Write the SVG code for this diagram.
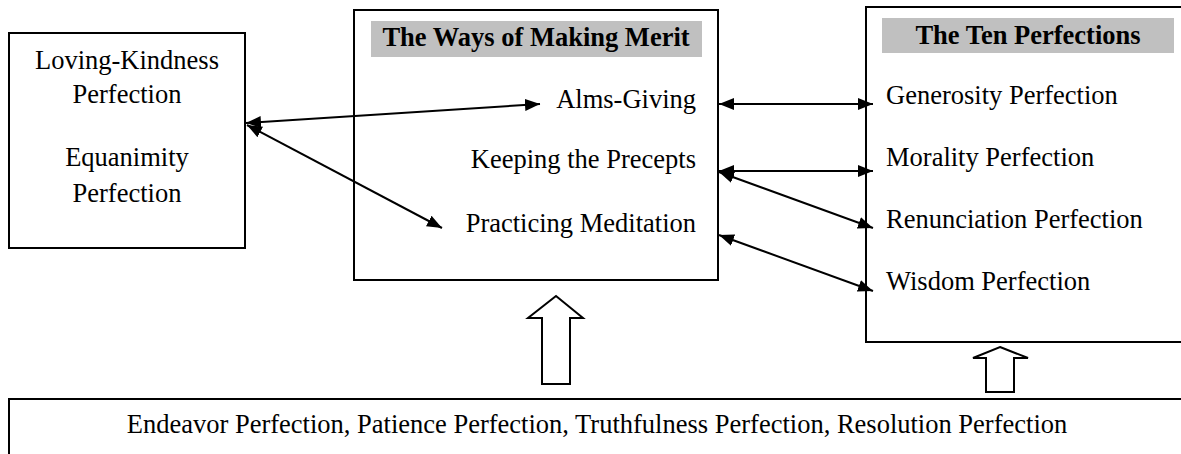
<svg xmlns="http://www.w3.org/2000/svg" width="1181" height="454" viewBox="0 0 1181 454">
<style>
.box{fill:#fff;stroke:#000;stroke-width:2}
.hdr{fill:#c0c0c0}
.ln{stroke:#000;stroke-width:2;fill:none;marker-start:url(#ah);marker-end:url(#ah)}
.blk{fill:#fff;stroke:#000;stroke-width:2;stroke-linejoin:miter}
</style>
<defs>
<marker id="ah" markerUnits="userSpaceOnUse" markerWidth="16" markerHeight="14" refX="15" refY="7" orient="auto-start-reverse" viewBox="0 0 16 14">
<path d="M0,1 L15,7 L0,13 Z" fill="#000"/>
</marker>
</defs>
<rect width="1181" height="454" fill="#fff"/>
<g id="node-left">
<rect class="box" x="9" y="33" width="236" height="215"/>
<text x="127" y="69" font-family="Liberation Serif" font-size="26.5" text-anchor="middle">Loving-Kindness</text>
<text x="127" y="103" font-family="Liberation Serif" font-size="26.5" text-anchor="middle">Perfection</text>
<text x="127" y="166" font-family="Liberation Serif" font-size="26.5" text-anchor="middle">Equanimity</text>
<text x="127" y="202" font-family="Liberation Serif" font-size="26.5" text-anchor="middle">Perfection</text>
</g>
<g id="node-merit">
<rect class="box" x="354" y="10" width="364" height="270"/>
<rect class="hdr" x="371" y="21" width="331" height="36"/>
<text x="536" y="46" font-family="Liberation Serif" font-size="26.5" font-weight="bold" text-anchor="middle">The Ways of Making Merit</text>
<text x="696" y="108" font-family="Liberation Serif" font-size="26.5" text-anchor="end">Alms-Giving</text>
<text x="696" y="168" font-family="Liberation Serif" font-size="26.5" text-anchor="end">Keeping the Precepts</text>
<text x="696" y="232" font-family="Liberation Serif" font-size="26.5" text-anchor="end">Practicing Meditation</text>
</g>
<g id="node-ten">
<rect class="box" x="866" y="7" width="330" height="335"/>
<rect class="hdr" x="882" y="18" width="292" height="35"/>
<text x="1028" y="44" font-family="Liberation Serif" font-size="26.5" font-weight="bold" text-anchor="middle">The Ten Perfections</text>
<text x="886" y="104" font-family="Liberation Serif" font-size="26.5">Generosity Perfection</text>
<text x="886" y="166" font-family="Liberation Serif" font-size="26.5">Morality Perfection</text>
<text x="886" y="228" font-family="Liberation Serif" font-size="26.5">Renunciation Perfection</text>
<text x="886" y="290" font-family="Liberation Serif" font-size="26.5">Wisdom Perfection</text>
</g>
<g id="node-bottom">
<rect class="box" x="9" y="399" width="1190" height="80"/>
<text x="597" y="433" font-family="Liberation Serif" font-size="26.5" text-anchor="middle">Endeavor Perfection, Patience Perfection, Truthfulness Perfection, Resolution Perfection</text>
</g>
<g id="connectors">
<line class="ln" x1="246" y1="123" x2="540" y2="104"/>
<line class="ln" x1="247" y1="125" x2="442" y2="228"/>
<line class="ln" x1="719" y1="104" x2="873" y2="104"/>
<line class="ln" x1="719" y1="171" x2="873" y2="171"/>
<line class="ln" x1="719" y1="172" x2="873" y2="228"/>
<line class="ln" x1="719" y1="235" x2="873" y2="291"/>
<polygon class="blk" points="556,296 583,318 570,318 570,384 542,384 542,318 528,318"/>
<polygon class="blk" points="1000,347 1028,358 1014,358 1014,392 986,392 986,358 973,358"/>
</g>
</svg>
